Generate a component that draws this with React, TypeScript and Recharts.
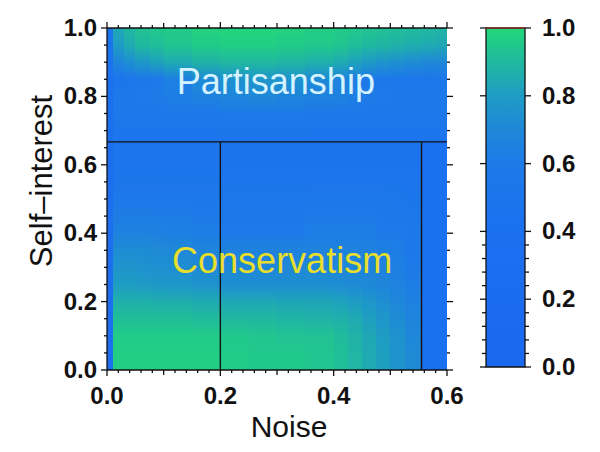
import React from 'react';
import { ComposedChart, XAxis, YAxis, ReferenceArea, ReferenceLine, ReferenceDot } from 'recharts';

// noise column edges of the heat map
const noiseEdges = [0, 0.01, 0.03, 0.05, 0.075, 0.1, 0.15, 0.2, 0.25, 0.3, 0.35, 0.4, 0.425, 0.45, 0.475, 0.5, 0.525, 0.555, 0.58, 0.6];

// self-interest levels, top to bottom
const selfLevels = [1.0, 0.95, 0.9, 0.85, 0.8, 0.75, 0.68, 0.66, 0.6, 0.5, 0.4, 0.35, 0.3, 0.25, 0.2, 0.15, 0.1, 0.05, 0.0];

// colour-bar value per level (row) and noise column
const heat = [
  [0.5, 0.84, 0.9, 0.93, 0.95, 0.96, 0.98, 0.99, 0.99, 0.98, 0.97, 0.96, 0.95, 0.94, 0.93, 0.92, 0.91, 0.9, 0.89],
  [0.48, 0.8, 0.85, 0.9, 0.92, 0.94, 0.96, 0.97, 0.97, 0.96, 0.95, 0.94, 0.92, 0.9, 0.89, 0.88, 0.86, 0.85, 0.84],
  [0.45, 0.68, 0.73, 0.78, 0.82, 0.85, 0.88, 0.9, 0.9, 0.89, 0.87, 0.85, 0.82, 0.79, 0.76, 0.74, 0.72, 0.7, 0.7],
  [0.4, 0.5, 0.52, 0.55, 0.58, 0.64, 0.71, 0.75, 0.77, 0.75, 0.71, 0.67, 0.63, 0.58, 0.55, 0.53, 0.52, 0.52, 0.54],
  [0.4, 0.58, 0.58, 0.6, 0.61, 0.62, 0.65, 0.68, 0.7, 0.68, 0.66, 0.65, 0.63, 0.61, 0.59, 0.58, 0.58, 0.58, 0.58],
  [0.4, 0.55, 0.56, 0.56, 0.56, 0.57, 0.58, 0.6, 0.6, 0.6, 0.58, 0.58, 0.57, 0.56, 0.56, 0.56, 0.55, 0.55, 0.55],
  [0.4, 0.5, 0.5, 0.5, 0.5, 0.5, 0.5, 0.5, 0.5, 0.5, 0.5, 0.5, 0.5, 0.5, 0.5, 0.5, 0.5, 0.5, 0.5],
  [0.35, 0.5, 0.5, 0.5, 0.5, 0.5, 0.5, 0.48, 0.48, 0.48, 0.48, 0.48, 0.48, 0.48, 0.48, 0.48, 0.48, 0.4, 0.4],
  [0.35, 0.5, 0.5, 0.5, 0.5, 0.5, 0.5, 0.48, 0.48, 0.48, 0.48, 0.48, 0.48, 0.48, 0.48, 0.48, 0.48, 0.4, 0.4],
  [0.35, 0.56, 0.56, 0.56, 0.55, 0.55, 0.55, 0.54, 0.54, 0.54, 0.55, 0.56, 0.56, 0.56, 0.55, 0.54, 0.52, 0.4, 0.4],
  [0.35, 0.66, 0.66, 0.66, 0.65, 0.64, 0.62, 0.6, 0.6, 0.6, 0.62, 0.62, 0.62, 0.62, 0.6, 0.59, 0.57, 0.4, 0.4],
  [0.35, 0.72, 0.72, 0.72, 0.71, 0.7, 0.68, 0.66, 0.66, 0.66, 0.66, 0.66, 0.66, 0.65, 0.64, 0.62, 0.58, 0.4, 0.4],
  [0.35, 0.76, 0.76, 0.75, 0.74, 0.73, 0.71, 0.7, 0.7, 0.7, 0.7, 0.7, 0.69, 0.68, 0.66, 0.64, 0.6, 0.4, 0.4],
  [0.35, 0.8, 0.8, 0.79, 0.78, 0.77, 0.75, 0.73, 0.73, 0.73, 0.73, 0.72, 0.71, 0.7, 0.68, 0.66, 0.62, 0.4, 0.4],
  [0.35, 0.87, 0.87, 0.87, 0.86, 0.86, 0.85, 0.84, 0.84, 0.83, 0.83, 0.82, 0.8, 0.77, 0.73, 0.69, 0.65, 0.4, 0.4],
  [0.35, 0.92, 0.92, 0.92, 0.92, 0.92, 0.91, 0.9, 0.9, 0.89, 0.88, 0.87, 0.85, 0.81, 0.77, 0.72, 0.67, 0.4, 0.4],
  [0.35, 0.96, 0.96, 0.96, 0.96, 0.96, 0.96, 0.95, 0.94, 0.93, 0.93, 0.91, 0.88, 0.84, 0.8, 0.75, 0.69, 0.4, 0.4],
  [0.35, 0.97, 0.97, 0.97, 0.97, 0.97, 0.97, 0.96, 0.95, 0.95, 0.94, 0.92, 0.89, 0.85, 0.81, 0.76, 0.71, 0.4, 0.4],
  [0.35, 0.97, 0.97, 0.97, 0.97, 0.97, 0.97, 0.96, 0.95, 0.95, 0.94, 0.92, 0.89, 0.85, 0.81, 0.76, 0.71, 0.4, 0.4],
];

const xTicks = [0, 0.02, 0.04, 0.06, 0.08, 0.1, 0.12, 0.14, 0.16, 0.18, 0.2, 0.22, 0.24, 0.26, 0.28, 0.3,
  0.32, 0.34, 0.36, 0.38, 0.4, 0.42, 0.44, 0.46, 0.48, 0.5, 0.52, 0.54, 0.56, 0.58, 0.6];
const xMajor = [0, 0.2, 0.4, 0.6];
const xMid = [0.1, 0.3, 0.5];
const yTicks = [0, 0.05, 0.1, 0.15, 0.2, 0.25, 0.3, 0.35, 0.4, 0.45, 0.5, 0.55, 0.6, 0.65, 0.7, 0.75, 0.8, 0.85, 0.9, 0.95, 1];
const yMajor = [0, 0.2, 0.4, 0.6, 0.8, 1];
const cbarTicks = [0, 0.04, 0.08, 0.12, 0.16, 0.2, 0.24, 0.28, 0.32, 0.36, 0.4, 0.6, 0.8, 1];

// phase boundaries
const boundarySelf = 0.667;
const boundaryNoise = [0.2, 0.555];

const labels = [
  { text: 'Partisanship', noise: 0.298, self: 0.843, color: '#d4f3ff' },
  { text: 'Conservatism', noise: 0.309, self: 0.322, color: '#e8de2c' },
];

const colormap: [number, string][] = [
  [0.0, '#1a68ee'],
  [0.4, '#1b70f0'],
  [0.6, '#1d7ae8'],
  [0.7, '#1e88d8'],
  [0.8, '#1e9cc4'],
  [0.9, '#20b8a0'],
  [1.0, '#22d878'],
];

const INK = '#111';
const FONT = '"Liberation Sans", Arial, Helvetica, sans-serif';

const hex = (c: string) => [1, 3, 5].map((i) => parseInt(c.slice(i, i + 2), 16));

function colorAt(v: number) {
  for (let i = 1; i < colormap.length; i++) {
    const [p0, c0] = colormap[i - 1];
    const [p1, c1] = colormap[i];
    if (v <= p1 || i === colormap.length - 1) {
      const t = Math.max(0, Math.min(1, (v - p0) / (p1 - p0)));
      const a = hex(c0);
      const b = hex(c1);
      return `rgb(${a.map((x, k) => Math.round(x + (b[k] - x) * t)).join(',')})`;
    }
  }
  return colormap[0][1];
}

const near = (list: number[], v: number) => list.some((m) => Math.abs(m - v) < 1e-6);

const tickText = { fontFamily: FONT, fontWeight: 700, fontSize: 24, fill: INK };

function BottomTick({ x, y, payload }: any) {
  const v = payload.value;
  const len = near(xMajor, v) ? 6 : near(xMid, v) ? 5 : 3;
  return (
    <g>
      <line x1={x} x2={x} y1={y} y2={y + len} stroke={INK} strokeWidth={1.3} />
      {near(xMajor, v) && (
        <text x={x} y={y + 34} textAnchor="middle" {...tickText}>
          {v.toFixed(1)}
        </text>
      )}
    </g>
  );
}

function TopTick({ x, y, payload }: any) {
  const v = payload.value;
  const len = near(xMajor, v) ? 6 : near(xMid, v) ? 5 : 3;
  return <line x1={x} x2={x} y1={y} y2={y - len} stroke={INK} strokeWidth={1.3} />;
}

function LeftTick({ x, y, payload }: any) {
  const v = payload.value;
  const major = near(yMajor, v);
  return (
    <g>
      <line x1={x} x2={x - (major ? 6 : 3)} y1={y} y2={y} stroke={INK} strokeWidth={1.3} />
      {major && (
        <text x={x - 10} y={y + 8} textAnchor="end" {...tickText}>
          {v.toFixed(1)}
        </text>
      )}
    </g>
  );
}

function RightTick({ x, y, payload }: any) {
  const v = payload.value;
  const major = near(yMajor, v);
  return <line x1={x} x2={x + (major ? 6 : 3)} y1={y} y2={y} stroke={INK} strokeWidth={1.3} />;
}

function CbarLeftTick({ x, y, payload }: any) {
  const major = near(yMajor, payload.value);
  return <line x1={x} x2={x - (major ? 6 : 4)} y1={y} y2={y} stroke={INK} strokeWidth={1.3} />;
}

function CbarRightTick({ x, y, payload }: any) {
  const v = payload.value;
  const major = near(yMajor, v);
  return (
    <g>
      <line x1={x} x2={x + (major ? 6 : 4)} y1={y} y2={y} stroke={INK} strokeWidth={1.3} />
      {major && (
        <text x={x + 17} y={y + 8} textAnchor="start" {...tickText}>
          {v.toFixed(1)}
        </text>
      )}
    </g>
  );
}

const columns = noiseEdges.slice(0, -1).map((x1, i) => ({ noise: x1, x1, x2: noiseEdges[i + 1], i }));

function HeatMap() {
  return (
    <ComposedChart
      width={600}
      height={452}
      data={columns}
      margin={{ top: 27, right: 152, bottom: 0, left: 0 }}
    >
      <defs>
        {columns.map(({ i }) => (
          <linearGradient key={i} id={`hm-col-${i}`} x1="0" y1="1" x2="0" y2="0">
            {selfLevels
              .map((lvl, r) => ({ lvl, v: heat[r][i] }))
              .reverse()
              .map(({ lvl, v }, k) => (
                <stop key={k} offset={lvl} stopColor={colorAt(v)} />
              ))}
          </linearGradient>
        ))}
      </defs>
      <XAxis
        dataKey="noise"
        type="number"
        domain={[0, 0.6]}
        allowDataOverflow
        ticks={xTicks}
        interval={0}
        height={82}
        tickSize={0}
        tickMargin={0}
        tick={<BottomTick />}
        axisLine={{ stroke: INK, strokeWidth: 1.3 }}
        label={{
          content: ({ viewBox }: any) => (
            <text
              x={viewBox.x + viewBox.width / 2 + 12}
              y={viewBox.y + 67}
              textAnchor="middle"
              fontFamily={FONT}
              fontSize={30}
              fill={INK}
            >
              Noise
            </text>
          ),
        }}
      />
      <XAxis
        xAxisId="t"
        dataKey="noise"
        orientation="top"
        type="number"
        domain={[0, 0.6]}
        allowDataOverflow
        ticks={xTicks}
        interval={0}
        height={1}
        tickSize={0}
        tickMargin={0}
        tick={<TopTick />}
        axisLine={{ stroke: INK, strokeWidth: 1.3 }}
      />
      <YAxis
        type="number"
        domain={[0, 1]}
        allowDataOverflow
        ticks={yTicks}
        interval={0}
        width={107}
        tickSize={0}
        tickMargin={0}
        tick={<LeftTick />}
        axisLine={{ stroke: INK, strokeWidth: 1.3 }}
        label={{
          content: ({ viewBox }: any) => {
            const cx = viewBox.x + 52;
            const cy = viewBox.y + 153;
            return (
              <text
                x={cx}
                y={cy}
                transform={`rotate(-90, ${cx}, ${cy})`}
                textAnchor="middle"
                fontFamily={FONT}
                fontSize={31}
                fill={INK}
              >
                Self–interest
              </text>
            );
          },
        }}
      />
      <YAxis
        yAxisId="r"
        orientation="right"
        type="number"
        domain={[0, 1]}
        allowDataOverflow
        ticks={yTicks}
        interval={0}
        width={1}
        tickSize={0}
        tickMargin={0}
        tick={<RightTick />}
        axisLine={false}
      />
      {columns.map(({ x1, x2, i }) => (
        <ReferenceArea
          key={i}
          x1={x1}
          x2={x2}
          y1={0}
          y2={1}
          fillOpacity={1}
          shape={(p: any) => (
            <rect
              x={p.x}
              y={p.y}
              width={p.width}
              height={p.height}
              fill={`url(#hm-col-${i})`}
              shapeRendering="crispEdges"
            />
          )}
        />
      ))}
      <ReferenceLine y={boundarySelf} stroke={INK} strokeWidth={1.4} />
      {boundaryNoise.map((n) => (
        <ReferenceLine
          key={n}
          segment={[
            { x: n, y: 0 },
            { x: n, y: boundarySelf },
          ]}
          stroke={INK}
          strokeWidth={1.4}
        />
      ))}
      {labels.map((l) => (
        <ReferenceDot
          key={l.text}
          x={l.noise}
          y={l.self}
          r={0}
          fill="none"
          stroke="none"
          label={{
            value: l.text,
            position: 'center',
            fill: l.color,
            fontSize: 36,
            fontFamily: FONT,
          }}
        />
      ))}
    </ComposedChart>
  );
}

const cbarData = [{ v: 0 }, { v: 1 }];

function ColorBar() {
  return (
    <ComposedChart
      width={600}
      height={452}
      data={cbarData}
      margin={{ top: 28, right: 0, bottom: 84, left: 485 }}
    >
      <defs>
        <linearGradient id="cbar" x1="0" y1="1" x2="0" y2="0">
          {colormap.map(([p, c]) => (
            <stop key={p} offset={p} stopColor={c} />
          ))}
        </linearGradient>
      </defs>
      <XAxis
        dataKey="v"
        type="number"
        domain={[0, 1]}
        allowDataOverflow
        height={1}
        tick={false}
        tickLine={false}
        axisLine={false}
      />
      <YAxis
        type="number"
        domain={[0, 1]}
        allowDataOverflow
        ticks={cbarTicks}
        interval={0}
        width={1}
        tickSize={0}
        tickMargin={0}
        tick={<CbarLeftTick />}
        axisLine={false}
      />
      <YAxis
        yAxisId="cr"
        orientation="right"
        type="number"
        domain={[0, 1]}
        allowDataOverflow
        ticks={cbarTicks}
        interval={0}
        width={75}
        tickSize={0}
        tickMargin={0}
        tick={<CbarRightTick />}
        axisLine={false}
      />
      <ReferenceArea
        x1={0}
        x2={1}
        y1={0}
        y2={1}
        fill="url(#cbar)"
        fillOpacity={1}
        stroke={INK}
        strokeWidth={1.3}
      />
      <ReferenceLine y={1} stroke="#8a3426" strokeWidth={1.5} />
    </ComposedChart>
  );
}

export default function App() {
  return (
    <div style={{ position: 'absolute', left: 0, top: 0, width: 600, height: 452, background: '#fff' }}>
      <div style={{ position: 'absolute', left: 0, top: 0 }}>
        <HeatMap />
      </div>
      <div style={{ position: 'absolute', left: 0, top: 0 }}>
        <ColorBar />
      </div>
    </div>
  );
}
